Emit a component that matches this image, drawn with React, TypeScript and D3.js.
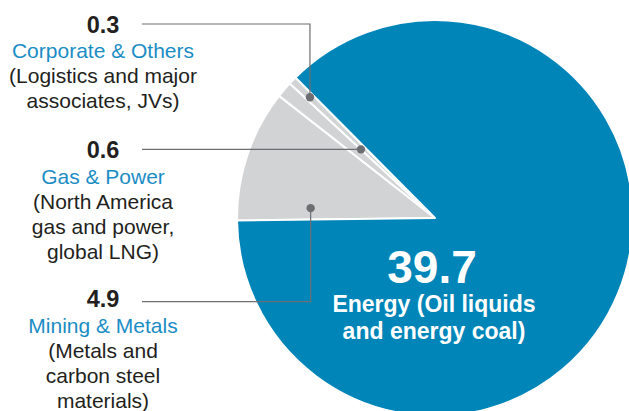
import React from "react";
import * as d3 from "d3";

// ---- Data ----
const segments = ["Mining & Metals", "Gas & Power", "Corporate & Others", "Energy"];
const values = [4.9, 0.6, 0.3, 39.7];
const valueLabels = ["4.9", "0.6", "0.3", "39.7"];
const descriptions = [
  ["(Metals and", "carbon steel", "materials)"],
  ["(North America", "gas and power,", "global LNG)"],
  ["(Logistics and major", "associates, JVs)"],
  ["Energy (Oil liquids", "and energy coal)"],
];

// ---- Layout / style ----
const W = 629;
const H = 411;
const CX = 435;
const CY = 218;
const R = 198;
const START_DEG = 269.3;
const COLORS = ["#d1d3d4", "#d1d3d4", "#d1d3d4", "#0085b9"];
const BLUE_TEXT = "#1b8dc5";
const DARK = "#231f20";
const LEADER = "#6d6e71";
const TEXT_X = 103;
const LINE_END_X = 142;
const FONT = "'Liberation Sans', Arial, sans-serif";

// callout layout for the first three segments (angle fraction within slice, radius fraction)
const callouts = [
  { idx: 0, frac: 0.135, rf: 0.63, lineY: 301.7 as number | null, valueBaseline: 307.3 },
  { idx: 1, frac: 1.0, rf: 0.51, lineY: null as number | null, valueBaseline: 158.3 },
  { idx: 2, frac: 0.5, rf: 0.878, lineY: 24 as number | null, valueBaseline: 32.7 },
];

export default function App() {
  const start = (START_DEG * Math.PI) / 180;
  const pie = d3
    .pie<number>()
    .sort(null)
    .value((d) => d)
    .startAngle(start)
    .endAngle(start + 2 * Math.PI);
  const arcs = pie(values);
  const arcGen = d3.arc<d3.PieArcDatum<number>>().innerRadius(0).outerRadius(R);

  const polar = (angle: number, r: number) => [CX + r * Math.sin(angle), CY - r * Math.cos(angle)];

  return (
    <svg
      width={W}
      height={H}
      style={{ position: "absolute", left: 0, top: 0, background: "#ffffff" }}
    >
      <g transform={`translate(${CX},${CY})`}>
        {arcs.map((a, i) => (
          <path key={i} d={arcGen(a) || ""} fill={COLORS[i]} stroke="#ffffff" strokeWidth={2} strokeLinejoin="round" />
        ))}
      </g>

      {callouts.map((c) => {
        const a = arcs[c.idx];
        const ang = a.startAngle + c.frac * (a.endAngle - a.startAngle);
        const [dx, dy] = polar(ang, c.rf * R);
        const ly = c.lineY === null ? dy : c.lineY;
        const pts = c.lineY === null ? `${dx},${dy} ${LINE_END_X},${ly}` : `${dx},${dy} ${dx},${ly} ${LINE_END_X},${ly}`;
        const desc = descriptions[c.idx];
        return (
          <g key={c.idx}>
            <polyline points={pts} fill="none" stroke={LEADER} strokeWidth={1.2} />
            <circle cx={dx} cy={dy} r={4.2} fill={LEADER} />
            <text
              x={TEXT_X}
              y={c.valueBaseline}
              textAnchor="middle"
              fontFamily={FONT}
              fontWeight="bold"
              fontSize={23.5}
              fill={DARK}
            >
              {valueLabels[c.idx]}
            </text>
            <text x={TEXT_X} y={c.valueBaseline + 25.7} textAnchor="middle" fontFamily={FONT} fontSize={21} fill={BLUE_TEXT}>
              {segments[c.idx]}
            </text>
            {desc.map((line, j) => (
              <text
                key={j}
                x={TEXT_X}
                y={c.valueBaseline + 25.7 + 25 * (j + 1)}
                textAnchor="middle"
                fontFamily={FONT}
                fontSize={21}
                fill={DARK}
              >
                {line}
              </text>
            ))}
          </g>
        );
      })}

      <g fontFamily={FONT} fontWeight="bold" fill="#ffffff" textAnchor="middle">
        <text x={432} y={283.3} fontSize={46}>
          {valueLabels[3]}
        </text>
        {descriptions[3].map((line, j) => (
          <text key={j} x={434} y={311.7 + 27.5 * j} fontSize={23}>
            {line}
          </text>
        ))}
      </g>
    </svg>
  );
}
